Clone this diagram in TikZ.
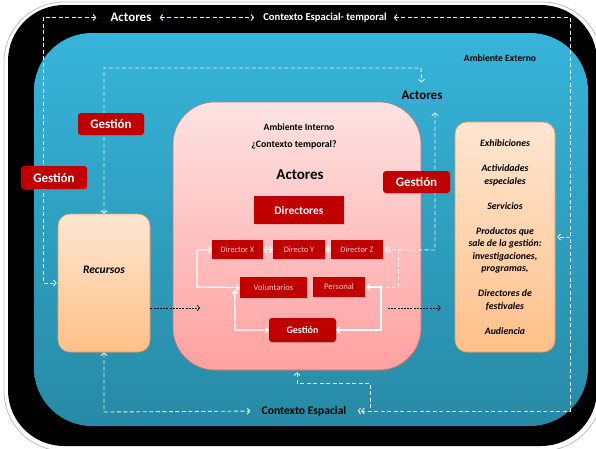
\documentclass[tikz,border=0pt]{standalone}
\usepackage{fontspec}
\setmainfont{Carlito}
\usetikzlibrary{arrows.meta,shadows}

\definecolor{extTop}{HTML}{37B4DA}
\definecolor{extBot}{HTML}{278AA6}
\definecolor{pinkTop}{HTML}{FDE3E3}
\definecolor{pinkBot}{HTML}{FFA0A0}
\definecolor{pinkEdge}{HTML}{C87070}
\definecolor{orTop}{HTML}{FDE6D2}
\definecolor{orBot}{HTML}{FFC088}
\definecolor{orEdge}{HTML}{E3A060}
\definecolor{gred}{HTML}{C00000}
\definecolor{dirText}{HTML}{F2CACA}
\definecolor{dashW}{HTML}{E6F2F4}

\newcommand{\fs}[1]{\fontsize{#1}{#1}\selectfont}

\begin{document}
\begin{tikzpicture}[x=1pt,y=-1pt,
  >={Straight Barb[length=2.6pt,width=6pt]},
  wdash/.style={draw=dashW, line width=0.9pt, dash pattern=on 4pt off 2.5pt},
  wline/.style={draw=white, line width=1.2pt},
  bdash/.style={draw=black, line width=0.6pt, dash pattern=on 2pt off 1.2pt},
  hdr/.style={inner sep=0pt, font=\bfseries\fs{#1}},
  gbox/.style={fill=gred, text=white, font=\bfseries\fs{13}, rounded corners=3pt,
    minimum width=66pt, minimum height=22pt, inner sep=0pt,
    drop shadow={opacity=0.35, shadow xshift=0.8pt, shadow yshift=-1.2pt}},
  dirbox/.style={fill=gred, text=dirText, font=\fs{8.3}, minimum width=51pt,
    minimum height=19pt, inner sep=0pt,
    drop shadow={opacity=0.25, shadow xshift=0.6pt, shadow yshift=-0.8pt}},
  orbox/.style={draw=orEdge, line width=0.6pt, top color=orTop, bottom color=orBot,
    rounded corners=12pt, inner sep=0pt,
    drop shadow={opacity=0.35, shadow xshift=0.8pt, shadow yshift=-1.5pt}},
]
\useasboundingbox (0,0) rectangle (596,448);

% frame: white card, black band, outer environment
\fill[white] (0,0) rectangle (596,448);
\draw[black!25, line width=0.8pt, fill=white, rounded corners=60pt] (4,2) rectangle (602,451);
\fill[black, rounded corners=56pt] (8,5) rectangle (597,446);
\shade[top color=extTop, bottom color=extBot, rounded corners=58pt] (34,33) rectangle (588,426);

% header labels in the black band
\node[hdr=13, text=white] (topActores) at (131,17.5) {Actores};
\node[hdr=10.6, text=white] (topCtx) at (325,17.5) {Contexto Espacial- temporal};

% outer environment labels
\node[hdr=9.6] (ambExt) at (500,58) {Ambiente Externo};
\node[hdr=13] (midActores) at (422,95) {Actores};

% inner environment
\node[draw=pinkEdge, line width=0.6pt, top color=pinkTop, bottom color=pinkBot,
  rounded corners=42pt, minimum width=248pt, minimum height=268pt, inner sep=0pt,
  drop shadow={opacity=0.3, shadow xshift=1pt, shadow yshift=-1.5pt}] (pink) at (297,236) {};
\node[hdr=9.6] (ambInt) at (299,127) {Ambiente Interno};
\node[hdr=9.8] (ctxTemp) at (294,145) {¿Contexto temporal?};
\node[hdr=15] (pinkActores) at (300,175) {Actores};

\node[dirbox, font=\bfseries\fs{11.5}, text=white!92!pink, minimum width=90pt, minimum height=28pt] (directores) at (299,210) {Directores};
\node[dirbox] (dirX) at (237.5,249.5) {Director X};
\node[dirbox, minimum width=52pt] (dirY) at (299,249.5) {Directo Y};
\node[dirbox, minimum width=52pt] (dirZ) at (357,249.5) {Director Z};
\node[dirbox, font=\fs{8.6}, minimum width=67pt, minimum height=21pt] (volunt) at (273.5,287.5) {Voluntarios};
\node[dirbox, font=\fs{8.6}, minimum width=52pt, minimum height=20pt] (personal) at (339,287) {Personal};
\node[gbox, font=\bfseries\fs{10}, minimum width=67pt, minimum height=24pt] (gestIn) at (302.5,330) {Gestión};

% side boxes
\node[orbox, minimum width=92pt, minimum height=138pt] (recursos) at (104,283) {};
\node[font=\bfseries\itshape\fs{11.5}, inner sep=0pt] (recLbl) at (104,270) {Recursos};
\node[orbox, minimum width=100pt, minimum height=230pt, align=center,
  font=\bfseries\itshape\fontsize{9.8}{12.5}\selectfont] (salidas) at (505,237)
  {Exhibiciones\\[12.5pt] Actividades\\ especiales\\[12.5pt] Servicios\\[12.5pt]
   Productos que\\ sale de la gestión:\\ investigaciones,\\ programas,\\[12.5pt]
   Directores de\\ festivales\\[12.5pt] Audiencia};

\node[hdr=11.6] (contEsp) at (304,411) {Contexto Espacial};

% corner points of the dashed routes
\coordinate (tl) at (43,17.5);
\coordinate (lb) at (43,283);
\coordinate (tr) at (570,17.5);
\coordinate (br) at (570,411);
\coordinate (rv) at (570,237);
\coordinate (ra1) at (104,68);
\coordinate (ra2) at (421,68);
\coordinate (av) at (435,250);
\coordinate (dzj) at (398,250);
\coordinate (pj) at (398,287);
\coordinate (pr) at (381,287);
\coordinate (prb) at (381,330);
\coordinate (xl) at (197,250);
\coordinate (xlb) at (197,287);
\coordinate (vl) at (235,330);
\coordinate (rb) at (104,412);
\coordinate (pb1) at (297,383);
\coordinate (pb2) at (370,383);
\coordinate (pb3) at (370,411);
\coordinate (ra) at (200,308);
\coordinate (pbx) at (388,308);

% dashed white routes
\draw[wdash,<->, shorten <=14pt, shorten >=1pt] (topActores.west) -- (tl) -- (lb) -- (recursos.west);
\draw[wdash,<->, shorten <=8pt, shorten >=9pt] (topActores.east) -- (topCtx.west);
\draw[wdash,<->>, shorten <=7pt, shorten >=11pt] (topCtx.east) -- (tr) -- (br) -- (contEsp.east);
\draw[wdash,->, shorten >=2pt] (rv) -- (salidas.east);
\draw[wdash,<->, shorten >=8pt] (recursos.north) -- (ra1) -- (ra2) -- (midActores.north);
\draw[wdash,<->>, shorten <=13pt, shorten >=1pt] ([xshift=13pt]midActores.south) -- (av) -- (dirZ.east);
\draw[wdash] (dzj) -- (pj) -- (pr);
\draw[wdash,<->, shorten >=11pt] (recursos.south) -- (rb) -- (contEsp.west);
\draw[wdash,<-, shorten <=2pt] (pink.south) -- (pb1) -- (pb2) -- (pb3);

% solid white links among the inner actors
\draw[wline,<->, shorten <=1pt] (personal.east) -- (pr) -- (prb) -- (gestIn.east);
\draw[wline,<->] (dirX.west) -- (xl) -- (xlb) -- (volunt.west);
\draw[wline,<->] ([xshift=-5pt,yshift=8pt]volunt.south west) -- (vl) -- (gestIn.west);
\draw[wline,<->, line width=1pt] (dirX.east) -- (dirY.west);
\draw[wline,<->, line width=1pt] (dirY.east) -- (dirZ.west);

% black dashed flows
\draw[bdash,->] (recursos.east |- ra) -- (ra);
\draw[bdash,->, shorten >=14pt] (pbx) -- (salidas.west |- pbx);

% management tags
\node[gbox] (g1) at (111,124) {Gestión};
\node[gbox, minimum height=23pt] (g2) at (54,177.5) {Gestión};
\node[gbox, minimum width=67pt] (g3) at (416.5,182) {Gestión};
\end{tikzpicture}
\end{document}
